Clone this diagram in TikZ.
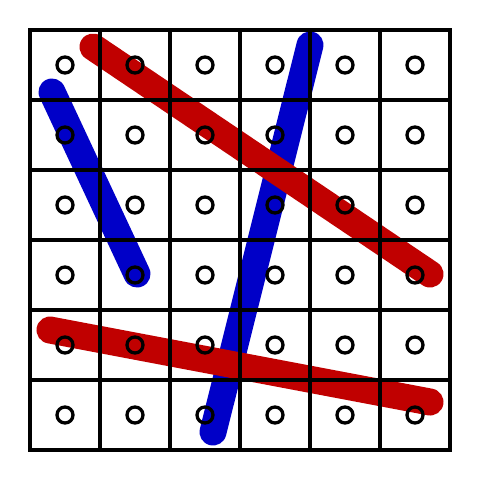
\documentclass[tikz,border=0pt]{standalone}
\tikzset{
  stroke/.style={line width=27pt, line cap=round},
  gridline/.style={line width=4pt, line cap=rect},
  dot/.style={circle, draw=black, line width=3.3pt, minimum size=16pt, inner sep=0pt, fill=none}
}
\definecolor{myred}{RGB}{192,0,0}
\definecolor{myblue}{RGB}{0,0,200}
\begin{document}
\begin{tikzpicture}[x=1pt,y=-1pt]
\useasboundingbox[fill=white] (0,0) rectangle (480,480);
\coordinate (b1s) at (52,92);
\coordinate (b1e) at (137,274);
\coordinate (b2s) at (310,45);
\coordinate (b2e) at (213,432);
\coordinate (r1s) at (93,47);
\coordinate (r1e) at (430,274);
\coordinate (r2s) at (50,330);
\coordinate (r2e) at (430,402);
\draw[stroke, myblue] (b1s) -- (b1e);
\draw[stroke, myblue] (b2s) -- (b2e);
\draw[stroke, myred] (r1s) -- (r1e);
\draw[stroke, myred] (r2s) -- (r2e);
\foreach \i in {0,...,6} {
  \draw[gridline] (30+70*\i,30) -- (30+70*\i,450);
  \draw[gridline] (30,30+70*\i) -- (450,30+70*\i);
}
\foreach \i in {0,...,5} {
  \foreach \j in {0,...,5} {
    \node[dot] (c\i\j) at (65+70*\i,65+70*\j) {};
  }
}
\end{tikzpicture}
\end{document}
